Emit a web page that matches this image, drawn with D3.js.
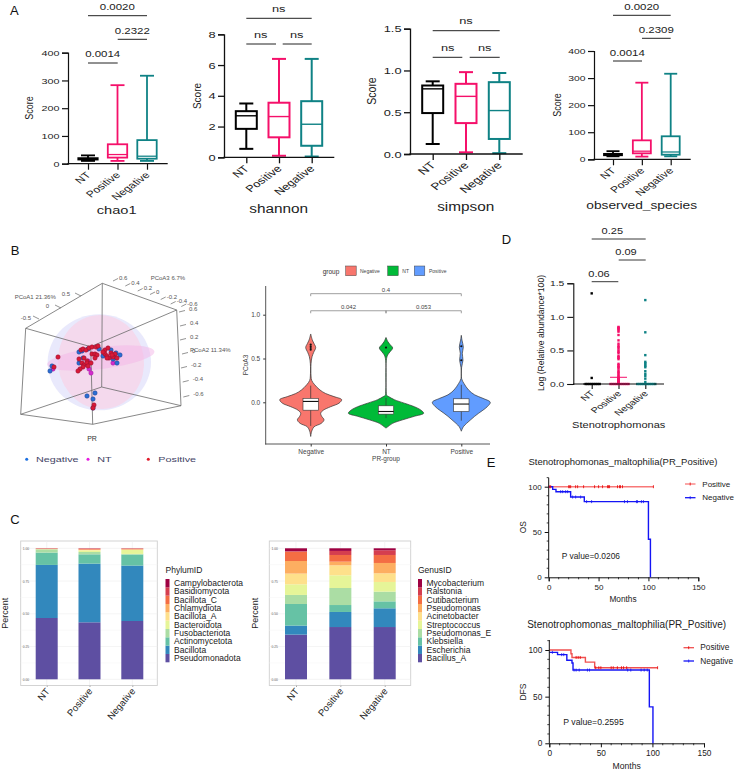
<!DOCTYPE html>
<html><head><meta charset="utf-8">
<script src="https://cdn.jsdelivr.net/npm/d3@7"></script>
<style>html,body{margin:0;padding:0;background:#fff}svg{display:block}text{font-family:"Liberation Sans",Arial,sans-serif}</style>
</head><body><svg id="c" width="739" height="774"></svg>
<script>
const groups = ["NT","Positive","Negative"];
const boxColors = ["#000000","#f5106a","#0f8285"];
// [min, q1, median, q3, max] per group
const chao1 = [[10,15,17,20,30],[10,22,33,70,283],[10,18,27,85,317]];
const shannon = [[0.55,1.85,2.7,3.0,3.5],[0.1,1.3,2.65,3.55,6.4],[0.05,0.75,2.15,3.65,6.4]];
const simpson = [[0.12,0.49,0.78,0.82,0.87],[0.02,0.37,0.69,0.84,0.98],[0.01,0.18,0.52,0.86,0.97]];
const observed = [[11,15,17,20,30],[10,22,30,70,283],[11,17,27,85,316]];

// 3D ordination, read as projected (u,v) picture units
const positive3d = [[-.19,.15],[-.17,.16],[-.14,.15],[-.11,.17],[-.08,.18],[-.04,.18],[-.02,.19],[-.08,.11],[-.05,.11],[-.03,.10],[-.05,.07],[-.21,.06],[-.16,.07],[-.13,.04],[-.18,.02],[-.16,0],[-.13,.02],[-.09,.02],[-.12,-.01],[-.17,-.02],[-.20,-.04],[-.22,-.06],[.05,.15],[.08,.17],[.11,.12],[.05,.11],[.07,.09],[.09,.07],[.15,.11],[.13,.08],[.17,.07],[.03,.13],[.07,.07],[.12,.10],[-.42,.08],[-.46,-.02],[-.06,-.40],[-.07,-.43]];
const negative3d = [[-.21,.13],[-.18,.14],[-.12,.16],[-.01,.16],[-.21,.02],[-.17,.07],[.03,.09],[.11,.15],[.16,.12],[.20,.10],[.15,.07],[.13,.06],[.17,.02],[-.48,-.01],[-.50,-.06],[-.05,-.28],[-.13,-.31],[-.07,-.34],[-.07,-.43]];
const nt3d = [[-.12,.04],[-.11,-.04],[-.09,-.08],[.13,.02],[-.47,-.04]];
const cubeEdges = [[[-.743,.367],[.023,.817]],[[.023,.817],[.767,.55]],[[.767,.55],[-.093,.183]],[[-.093,.183],[-.743,.367]],[[-.793,-.493],[.017,-.22]],[[.017,-.22],[.81,-.407]],[[.81,-.407],[-.073,-.593]],[[-.073,-.593],[-.793,-.493]],[[-.743,.367],[-.793,-.493]],[[.023,.817],[.017,-.22]],[[.767,.55],[.81,-.407]],[[-.093,.183],[-.073,-.593]]];
const ellipsoids = [[-.007,.027,.517,.48,0,"#e9e9fc",1],[.01,.03,.43,.47,-8,"#f6d6ea",.85],[.008,.07,.54,.11,-7,"#f3b6e8",.5]];

// violin profiles: [value, half width]
const violinNegative = [[-.39,0],[-.33,3],[-.28,10],[-.24,32],[-.2,40],[-.16,33],[-.125,30],[-.09,38],[-.05,60],[-.01,85],[.03,93],[.065,70],[.1,45],[.14,28],[.2,12],[.25,3],[.3,1],[.44,1],[.52,4],[.57,9],[.625,15],[.67,10],[.71,5],[.78,0]];
const violinNT = [[-.295,0],[-.28,5],[-.24,20],[-.2,50],[-.16,85],[-.125,113],[-.09,105],[-.05,85],[-.01,55],[.03,25],[.065,8],[.08,2],[.1,1],[.48,1],[.54,5],[.58,13],[.62,20],[.66,12],[.69,6],[.74,0]];
const violinPositive = [[-.33,0],[-.28,6],[-.24,16],[-.2,28],[-.16,40],[-.125,52],[-.09,65],[-.05,78],[0,87],[.045,65],[.085,40],[.14,22],[.215,8],[.27,1],[.4,1],[.48,5],[.56,3],[.63,6],[.71,2],[.765,0]];
const violinGroups = ["Negative","NT","Positive"];
const violinColors = ["#f8766d","#00ba38","#619cff"];
const violinBoxes = [[-.27,-.09,.01,.045,.19],[-.18,-.135,-.105,-.04,.05],[-.21,-.105,-.02,.04,.2]];
const violinOutliers = [[.6,.62,.64,.66],[.625],[.48,.64]];

// D: abundance
const dNT = [0,0,0,0,0,0,0,0,.09,1.35];
const dPositive = [0,0,0,0,0,0,0,0,0,0,.01,.02,.03,.04,.05,.06,.07,.08,.09,.1,.12,.14,.16,.18,.2,.23,.25,.26,.28,.3,.37,.39,.4,.42,.46,.48,.5,.53,.55,.57,.6,.65,.73,.78,.8,.82,.83,.84,.85];
const dNegative = [0,0,0,0,0,0,0,0,0,0,.03,.08,.12,.15,.19,.25,.27,.29,.31,.33,.43,.77,1.25];
const dMedians = [0,.1,0];

// C: stacks
const phylumNames = ["Pseudomonadota","Bacillota","Actinomycetota","Fusobacteriota","Bacteroidota","Bacillota_A","Chlamydiota","Bacillota_C","Basidiomycota","Campylobacterota"];
const phylumNT = [.468,.405,.094,.025,.001,.001,.001,.003,.001,.001];
const phylumPositive = [.435,.448,.071,.018,.012,.004,.002,.006,.003,.001];
const phylumNegative = [.445,.423,.084,.005,.030,.004,.001,.005,.002,.001];
const genusNames = ["Bacillus_A","Escherichia","Klebsiella","Pseudomonas_E","Streptococcus","Acinetobacter","Pseudomonas","Cutibacterium","Ralstonia","Mycobacterium"];
const genusNT = [.341,.069,.165,.069,.081,.082,.096,.072,.002,.023];
const genusPositive = [.399,.115,.053,.130,.097,.076,.028,.051,.031,.020];
const genusNegative = [.399,.143,.053,.074,.074,.066,.079,.061,.036,.015];
const spectral = ["#5E4FA2","#3288BD","#66C2A5","#ABDDA4","#E6F598","#FEE08B","#FDAE61","#F46D43","#D53E4F","#9E0142"];

// E: survival steps [month, percent]
const osPositive = [[0,100],[105,100]];
const osNegative = [[0,100],[4,97],[7.3,94.5],[22,88.6],[35.7,83.5],[100,42],[102,0]];
const osPosCensor = [1,2,20,21,22,27,29,35,46,50,54,59,60,61,69,71,72,74,105];
const osNegCensor = [12,14,17,19,24,27,32,38,43,76,79,88,89,93,95];
const dfsPositive = [[0,100],[21,96],[22,92],[35,87],[44,81],[105,81]];
const dfsNegative = [[0,97.5],[8,95],[17,89],[22,86],[23,78.5],[97,39],[100.5,0]];
const dfsPosCensor = [26,28,30,45,48,50,60,62,66,70,72,75,105];
const dfsNegCensor = [3,12,14,24,26,29,37,39,76,79,89,92,95];

const svg = d3.select("#c");
function T(x,y,s,o={}){
  const t = (o.g||svg).append("text").text(s).attr("font-size",o.size||8).attr("fill",o.fill||"#222")
    .attr("text-anchor",o.anchor||"start");
  t.attr("transform",`translate(${x},${y}) scale(${o.sx||1},1) rotate(${o.rot||0})`);
  return t;
}
function L(x1,y1,x2,y2,c="#222",w=1,g=svg){g.append("line").attr("x1",x1).attr("y1",y1).attr("x2",x2).attr("y2",y2).attr("stroke",c).attr("stroke-width",w);}

// Panel letters
[["A",10,14.5],["B",10.7,254.5],["C",10.3,524],["D",501.7,243.5],["E",486.7,467]].forEach(d=>T(d[1],d[2],d[0],{size:13,fill:"#111"}));

// ---------- A
function boxPanel(cfg){
  const x=d3.scalePoint(groups,cfg.cats), y=d3.scaleLinear().domain(cfg.domain).range(cfg.yr);
  const g=svg.append("g");
  const ay=g.append("g").attr("transform",`translate(${cfg.ax},0)`).call(d3.axisLeft(y).tickValues(cfg.ticks).tickSize(cfg.tl).tickFormat(cfg.fmt||(d=>d)));
  ay.select(".domain").attr("stroke","#111").attr("stroke-width",cfg.aw);
  ay.selectAll("line").attr("stroke","#111").attr("stroke-width",cfg.aw);
  ay.selectAll("text").attr("font-size",cfg.tick).attr("fill","#222").attr("font-family",'"Liberation Sans"')
    .attr("x",-(cfg.tl+2.5)/cfg.sx).attr("transform",`scale(${cfg.sx},1)`);
  const ax=g.append("g").attr("transform",`translate(0,${cfg.yr[0]})`).call(d3.axisBottom(x).tickSize(cfg.tl).tickFormat(d=>d));
  ax.select(".domain").remove();
  ax.selectAll("line").attr("stroke","#111").attr("stroke-width",cfg.aw);
  ax.selectAll("text").attr("font-size",cfg.lab).attr("fill","#222").attr("font-family",'"Liberation Sans"').attr("text-anchor","end")
    .attr("x",0).attr("y",0).attr("dy",0).attr("transform",`translate(3,${cfg.tl+6}) scale(${cfg.lsx||1.35},1) rotate(-45)`);
  L(cfg.ax-cfg.aw/2,cfg.yr[0],cfg.xe,cfg.yr[0],"#111",cfg.aw);
  cfg.data.forEach((d,i)=>{
    const c=boxColors[i], cx=x(groups[i]);
    const s=g.append("g").attr("fill","none").attr("stroke",c).attr("stroke-width",cfg.sw);
    s.append("line").attr("x1",cx).attr("x2",cx).attr("y1",y(d[0])).attr("y2",y(d[1]));
    s.append("line").attr("x1",cx).attr("x2",cx).attr("y1",y(d[3])).attr("y2",y(d[4]));
    [d[0],d[4]].forEach(v=>s.append("line").attr("x1",cx-cfg.cap).attr("x2",cx+cfg.cap).attr("y1",y(v)).attr("y2",y(v)));
    s.append("rect").attr("x",cx-cfg.bw).attr("width",2*cfg.bw).attr("y",y(d[3])).attr("height",y(d[1])-y(d[3]));
    s.append("line").attr("x1",cx-cfg.bw).attr("x2",cx+cfg.bw).attr("y1",y(d[2])).attr("y2",y(d[2])).attr("stroke-width",cfg.sw*.7);
  });
  T(cfg.score[0],cfg.score[1],"Score",{size:cfg.scoreSize,anchor:"middle",rot:-90,sx:1.15});
  T(cfg.title[0],cfg.title[1],cfg.name,{size:cfg.titleSize,anchor:"middle",sx:cfg.titleSx});
  cfg.br.forEach(b=>{L(b[0],b[2],b[1],b[2],"#222",1);T(b[3],b[4],b[5],{size:cfg.brSize,anchor:"middle",sx:1.35});});
}
boxPanel({name:"chao1",data:chao1,domain:[0,400],ticks:[0,100,200,300,400],yr:[163.7,52.7],cats:[88,147],ax:68,xe:167.7,tl:6,aw:1.2,sw:1.8,tick:8,lab:9,sx:1.35,bw:9.7,cap:7,
  score:[33,108],scoreSize:9,title:[116.7,214],titleSize:11,titleSx:1.33,brSize:8.5,
  br:[[88,147,15.7,117.3,10.3,"0.0020"],[117.7,147,39.3,132.3,34,"0.2322"],[88,117.7,63,102.7,57.3,"0.0014"]]});
boxPanel({name:"shannon",data:shannon,domain:[0,8],ticks:[0,2,4,6,8],yr:[157.3,34.3],cats:[246.3,311.7],ax:224,xe:334.3,tl:6,aw:1.3,sw:2,tick:9.5,lab:9.5,sx:1.35,bw:10.5,cap:7,
  score:[200.5,96],scoreSize:10,title:[278.7,213],titleSize:12,titleSx:1.28,brSize:9.5,
  br:[[246.3,311.7,18.3,278.7,12,"ns"],[246.3,276,44,260.7,37.7,"ns"],[282.7,311.7,44,296.7,37.7,"ns"]]});
boxPanel({name:"simpson",data:simpson,domain:[0,1.5],ticks:[0,.5,1,1.5],fmt:d3.format(".1f"),yr:[154,28.7],cats:[432.7,499.3],ax:410,xe:522.7,tl:6,aw:1.3,sw:2,tick:9.5,lab:10,sx:1.35,bw:10.5,cap:7,
  score:[376,91],scoreSize:10.5,title:[465.7,211],titleSize:12,titleSx:1.28,brSize:9.5,
  br:[[432.7,499.7,30.7,466,24.3,"ns"],[432.7,462.3,57.3,447.7,51,"ns"],[469.7,499.7,57.3,484.7,51,"ns"]]});
boxPanel({name:"observed_species",data:observed,domain:[0,400],ticks:[0,100,200,300,400],yr:[159.3,51],cats:[613,670.7],ax:594,xe:690.7,tl:6,aw:1.2,sw:1.8,tick:7.5,lab:9,sx:1.38,bw:9,cap:6.5,
  score:[561,105],scoreSize:9,title:[641.7,208.5],titleSize:10,titleSx:1.375,brSize:8.5,
  br:[[613,670.7,15.3,641.7,9.5,"0.0020"],[642,670.7,38.3,656.3,32.7,"0.2309"],[613,642,61,627.3,55.7,"0.0014"]]});

// ---------- B 3D
const pu=d3.scaleLinear().domain([-1,1]).range([0,200]), pv=d3.scaleLinear().domain([-1,1]).range([465,265]);
const b3=svg.append("g");
ellipsoids.forEach(e=>b3.append("ellipse").attr("cx",pu(e[0])).attr("cy",pv(e[1])).attr("rx",pu(e[2])-pu(0)).attr("ry",pv(0)-pv(e[3]))
  .attr("transform",`rotate(${e[4]},${pu(e[0])},${pv(e[1])})`).attr("fill",e[5]).attr("opacity",e[6]));
b3.selectAll("line.edge").data(cubeEdges).join("line").attr("x1",d=>pu(d[0][0])).attr("y1",d=>pv(d[0][1])).attr("x2",d=>pu(d[1][0])).attr("y2",d=>pv(d[1][1])).attr("stroke","#6a6a6a").attr("stroke-width",.8);
function dots(arr,f,s,r=2.2){b3.selectAll(null).data(arr).join("circle").attr("cx",d=>pu(d[0])).attr("cy",d=>pv(d[1])).attr("r",r).attr("fill",f).attr("stroke",s).attr("stroke-width",.5);}
dots(nt3d,"#d42ccc","#a01aa0");dots(negative3d,"#2b6fd4","#1c3f8c");dots(positive3d,"#d91a38","#8f1030");
const tick3d=(x,y,dx,dy)=>L(x,y,x+dx,y+dy,"#666",.7);
T(14.7,299,"PCoA1 21.36%",{size:6,fill:"#555"});
[["0.5",61.7,295.5,75,293],["0",45.7,308,55,305],["-0.5",20.7,319.5,33,316]].forEach(d=>{T(d[1],d[2],d[0],{size:6,fill:"#555"});tick3d(d[3],d[4],6,3);});
T(150.7,280,"PCoA3 6.7%",{size:6,fill:"#555"});
[["0.6",119,280],["0.4",131.3,285],["0.2",143.7,290],["0",156,293.5],["-0.2",166.7,298.5],["-0.4",176.7,303],["-0.6",187.3,305.5]].forEach(d=>{T(d[1],d[2],d[0],{size:6,fill:"#555"});tick3d(d[1]-6,d[2]+1,5,-2.5);});
T(190,351.5,"PCoA2 11.34%",{size:6,fill:"#555"});
[["0.6",189,311],["0.4",190,325],["0.2",190,339],["0",192,353],["-0.2",191,367],["-0.4",192.7,381],["-0.6",193.3,396]].forEach(d=>{T(d[1],d[2],d[0],{size:6,fill:"#555"});tick3d(d[1]-10,d[2]+1,6,-1.5);});
T(92,441,"PR",{size:7,fill:"#333",anchor:"middle"});
[["Negative",26.7,36,"#1c6fe0"],["NT",88,97.3,"#e61ae0"],["Positive",148.3,158.3,"#e01a2a"]].forEach(d=>{
  svg.append("circle").attr("cx",d[1]).attr("cy",459.3).attr("r",1.5).attr("fill",d[3]);
  T(d[2],462,d[0],{size:8,sx:1.35,fill:"#444466"});
});

// ---------- B violin
const vx=d3.scalePoint(violinGroups,[310.7,461.3]), vy=d3.scaleLinear().domain([0,1]).range([402.3,314.7]), vw=d3.scaleLinear().domain([0,100]).range([0,33.3]);
const vg=svg.append("g");
const vay=vg.append("g").attr("transform","translate(265.7,0)").call(d3.axisLeft(vy).tickValues([0,.5,1]).tickSize(2.5).tickFormat(d3.format(".1f")));
vay.select(".domain").remove();vay.selectAll("line").attr("stroke","#333");
vay.selectAll("text").attr("font-size",6.5).attr("fill","#444").attr("font-family",'"Liberation Sans"');
const vax=vg.append("g").attr("transform","translate(0,444)").call(d3.axisBottom(vx).tickSize(2.5));
vax.select(".domain").remove();vax.selectAll("line").attr("stroke","#333");
vax.selectAll("text").attr("font-size",6.5).attr("fill","#444").attr("font-family",'"Liberation Sans"');
L(265.7,286,265.7,444.5,"#444",.9);L(265.2,444,490,444,"#444",.9);
[violinNegative,violinNT,violinPositive].forEach((p,i)=>{
  const cx=vx(violinGroups[i]);
  const area=d3.area().curve(d3.curveCatmullRom).y(d=>vy(d[0])).x0(d=>cx-vw(d[1])).x1(d=>cx+vw(d[1]));
  vg.append("path").attr("d",area(p)).attr("fill",violinColors[i]).attr("stroke","#333").attr("stroke-width",.7);
  const b=violinBoxes[i];
  L(cx,vy(b[0]),cx,vy(b[4]),"#333",.7,vg);
  vg.append("rect").attr("x",cx-7.7).attr("width",15.4).attr("y",vy(b[3])).attr("height",vy(b[1])-vy(b[3])).attr("fill","#fff").attr("stroke","#333").attr("stroke-width",.6);
  L(cx-7.7,vy(b[2]),cx+7.7,vy(b[2]),"#111",1.1,vg);
  vg.selectAll(null).data(violinOutliers[i]).join("circle").attr("cx",cx).attr("cy",d=>vy(d)).attr("r",1.1).attr("fill","#111");
});
[[310.7,461.3,1.24,"0.4",386],[310.7,386,1.045,"0.042",348.5],[386,461.3,1.045,"0.053",423.5]].forEach(b=>{
  const yy=vy(b[2]);
  vg.append("path").attr("d",`M${b[0]},${yy+2.5}V${yy}H${b[1]}V${yy+2.5}`).attr("fill","none").attr("stroke","#777").attr("stroke-width",.7);
  T(b[4],yy-1.5,b[3],{size:6,anchor:"middle",fill:"#444"});
});
T(386,460.5,"PR-group",{size:6.5,anchor:"middle",fill:"#444"});
T(248,365,"PCoA3",{size:6.5,anchor:"middle",rot:-90,fill:"#444"});
T(322.7,273.5,"group",{size:6.5,fill:"#333"});
[[345.7,360,0],[387.7,402.3,1],[414.3,429,2]].forEach(d=>{
  svg.append("rect").attr("x",d[0]).attr("y",266).attr("width",10.5).attr("height",9.7).attr("fill",violinColors[d[2]]).attr("stroke","#444").attr("stroke-width",.5);
  T(d[1],272.8,violinGroups[d[2]],{size:5,fill:"#444"});
});

// ---------- D
const dx=d3.scalePoint(groups,[591.7,645.3]), dy=d3.scaleLinear().domain([0,1.5]).range([384,283.3]);
const dg=svg.append("g");
const day=dg.append("g").attr("transform","translate(573.3,0)").call(d3.axisLeft(dy).tickValues([0,.5,1,1.5]).tickSize(6).tickFormat(d3.format(".1f")));
day.select(".domain").attr("stroke","#111").attr("stroke-width",1.1);day.selectAll("line").attr("stroke","#111").attr("stroke-width",1.1);
day.selectAll("text").attr("font-size",7.5).attr("fill","#222").attr("font-family",'"Liberation Sans"').attr("x",-6.5).attr("transform","scale(1.38,1)");
const dax=dg.append("g").attr("transform","translate(0,384)").call(d3.axisBottom(dx).tickSize(5));
dax.select(".domain").remove();dax.selectAll("line").attr("stroke","#111").attr("stroke-width",1.1);
dax.selectAll("text").attr("font-size",8).attr("fill","#222").attr("font-family",'"Liberation Sans"').attr("text-anchor","end").attr("x",0).attr("y",0).attr("dy",0)
  .attr("transform","translate(3,10) scale(1.35,1) rotate(-45)");
L(573,384,664,384,"#111",1.1);
function swarm(vals,cx){
  const placed=[];
  return vals.map(v=>{const py=dy(v);let off=0,k=0;
    while(placed.some(p=>Math.abs(p.y-py)<.45&&Math.abs(p.o-off)<2)){k++;off=(k%2?1:-1)*Math.ceil(k/2)*2;}
    placed.push({y:py,o:off});return {x:cx+off,y:py};});
}
[dNT,dPositive,dNegative].forEach((arr,i)=>{
  const cx=dx(groups[i]);
  dg.selectAll(null).data(swarm(arr,cx)).join("rect").attr("x",d=>d.x-1.2).attr("y",d=>d.y-1.2).attr("width",2.4).attr("height",2.4).attr("fill",boxColors[i]);
  L(cx-8.5,dy(dMedians[i]),cx+8.5,dy(dMedians[i]),boxColors[i],1);
});
T(543.5,333,"Log (Relative abundance*100)",{size:8.6,anchor:"middle",rot:-90,sx:1.1});
T(618.7,428,"Stenotrophomonas",{size:8.5,anchor:"middle",sx:1.3});
[[591.7,645.7,239,612.3,234,"0.25"],[618.7,645.7,260,626,255,"0.09"],[591.7,618.3,281.7,599,276.7,"0.06"]].forEach(b=>{L(b[0],b[2],b[1],b[2],"#222",.9);T(b[3],b[4],b[5],{size:8.5,anchor:"middle",sx:1.3});});

// ---------- C
function stackPanel(o){
  const rows=groups.map((g,i)=>{const r={g};o.names.forEach((n,j)=>r[n]=o.vals[i][j]);return r;});
  const series=d3.stack().keys(o.names)(rows);
  const x=d3.scalePoint(groups,o.cats), y=d3.scaleLinear().domain([0,1]).range([679.3,548.3]);
  const g=svg.append("g");
  g.append("rect").attr("x",o.box[0]).attr("y",541).attr("width",o.box[1]-o.box[0]).attr("height",144.5).attr("fill","#fff").attr("stroke","#cfcfcf").attr("stroke-width",.9);
  d3.range(0,1.01,.125).forEach((v,i)=>{const s=i%2?"#f5f5f5":"#ececec";L(o.box[0],y(v),o.box[1],y(v),s,.6,g);});
  groups.forEach(c=>L(x(c),541,x(c),685.5,"#ececec",.6,g));
  series.forEach((s,j)=>g.selectAll(null).data(s).join("rect").attr("x",d=>x(d.data.g)-11).attr("width",22).attr("y",d=>y(d[1])).attr("height",d=>y(d[0])-y(d[1])).attr("fill",spectral[j]));
  const ay=g.append("g").attr("transform",`translate(${o.box[0]},0)`).call(d3.axisLeft(y).tickValues([0,.25,.5,.75,1]).tickSize(0).tickFormat(d3.format(".2f")));
  ay.select(".domain").remove();
  ay.selectAll("text").attr("font-size",3.3).attr("fill","#666").attr("font-family",'"Liberation Sans"').attr("x",8.5).attr("text-anchor","end");
  const ax=g.append("g").attr("transform","translate(0,685.5)").call(d3.axisBottom(x).tickSize(1.5));
  ax.select(".domain").remove();ax.selectAll("line").attr("stroke","#aaa");
  ax.selectAll("text").attr("font-size",9.5).attr("fill","#222").attr("font-family",'"Liberation Sans"').attr("text-anchor","end").attr("x",0).attr("y",0).attr("dy",0).attr("transform","translate(3,6) rotate(-50)");
  T(o.py[0],o.py[1],"Percent",{size:9,anchor:"middle",rot:-90});
  T(o.lx,573,o.title,{size:8.5,fill:"#222"});
  const n=o.names.length, h=8.33;
  o.names.forEach((name,j)=>{
    const top=579+(n-1-j)*h;
    g.append("rect").attr("x",o.lx).attr("y",top).attr("width",4).attr("height",h).attr("fill",spectral[j]);
    T(o.lx+8.5,top+7,name,{size:8.5,fill:"#222"});
  });
}
stackPanel({names:phylumNames,vals:[phylumNT,phylumPositive,phylumNegative],cats:[46.7,132.3],box:[20.7,157.3],py:[8,613.3],lx:165.5,title:"PhylumID"});
stackPanel({names:genusNames,vals:[genusNT,genusPositive,genusNegative],cats:[296,384.7],box:[269.3,410.7],py:[257.5,613.3],lx:418,title:"GenusID"});

// ---------- E
function km(o){
  const x=d3.scaleLinear().domain([0,150]).range(o.xr), y=d3.scaleLinear().domain([0,100]).range(o.yr);
  const g=svg.append("g");
  const ax=g.append("g").attr("transform",`translate(0,${o.yr[0]})`).call(d3.axisBottom(x).tickValues([0,50,100,150]).tickSize(4));
  ax.select(".domain").attr("stroke","#111").attr("stroke-width",1);ax.selectAll("line").attr("stroke","#111");
  ax.selectAll("text").attr("font-size",o.fs).attr("fill","#222").attr("font-family",'"Liberation Sans"');
  const ay=g.append("g").attr("transform",`translate(${o.xr[0]},0)`).call(d3.axisLeft(y).tickValues([0,50,100]).tickSize(4));
  ay.select(".domain").remove();ay.selectAll("line").attr("stroke","#111");
  ay.selectAll("text").attr("font-size",o.fs).attr("fill","#222").attr("font-family",'"Liberation Sans"');
  L(o.xr[0],o.top,o.xr[0],o.yr[0]+.5,"#111",1);
  d3.range(10,150,10).filter(v=>v%50).forEach(v=>L(x(v),o.yr[0],x(v),o.yr[0]+2,"#111",.8));
  d3.range(10,111,10).filter(v=>v%50).forEach(v=>L(o.xr[0]-2,y(v),o.xr[0],y(v),"#111",.8));
  const line=d3.line().curve(d3.curveStepAfter).x(d=>x(d[0])).y(d=>y(d[1]));
  const stepAt=(s,t)=>{let v=s[0][1];s.forEach(p=>{if(p[0]<=t)v=p[1];});return v;};
  [[o.pos,o.posC,o.posLine,"#e60000"],[o.neg,o.negC,"#1414f5","#1414f5"]].forEach(r=>{
    g.append("path").attr("d",line(r[0])).attr("fill","none").attr("stroke",r[2]).attr("stroke-width",1.4);
    r[1].forEach(t=>L(x(t),y(stepAt(r[0],t))-1.5,x(t),y(stepAt(r[0],t))+1.5,r[3],.8));
  });
  T(o.tx,o.ty,"Stenotrophomonas_maltophilia(PR_Positive)",{size:o.ts,anchor:"middle",fill:"#222"});
  T(o.tx,o.my,"Months",{size:o.fs+.3,anchor:"middle"});
  T(o.lab[0],o.lab[1],o.ylab,{size:o.fs+.3,anchor:"middle",rot:-90});
  T(o.p[0],o.p[1],o.pv,{size:o.fs+.4});
  [["Positive",o.posLine,"#e60000",o.leg[2]],["Negative","#1414f5","#1414f5",o.leg[3]]].forEach(d=>{
    L(o.leg[0],d[3],o.leg[0]+10.5,d[3],d[1],1.3);
    L(o.leg[0]+5.2,d[3]-1.5,o.leg[0]+5.2,d[3]+1.5,d[2],.8);
    T(o.leg[1],d[3]+2.7,d[0],{size:o.fs});
  });
}
km({xr:[548.7,698.3],yr:[577.3,486.7],top:477.7,pos:osPositive,neg:osNegative,posC:osPosCensor,negC:osNegCensor,posLine:"#f87878",fs:8,ts:9.5,tx:623,ty:465,my:602,lab:[526,527.3],ylab:"OS",p:[561.7,559],pv:"P value=0.0206",leg:[685,702.3,484,497.7]});
km({xr:[549.3,704],yr:[743.3,650],top:640,pos:dfsPositive,neg:dfsNegative,posC:dfsPosCensor,negC:dfsNegCensor,posLine:"#f05050",fs:8.3,ts:10,tx:626.7,ty:628,my:769,lab:[526,692],ylab:"DFS",p:[563.3,725],pv:"P value=0.2595",leg:[683.5,700.3,647.7,661]});
</script></body></html>
